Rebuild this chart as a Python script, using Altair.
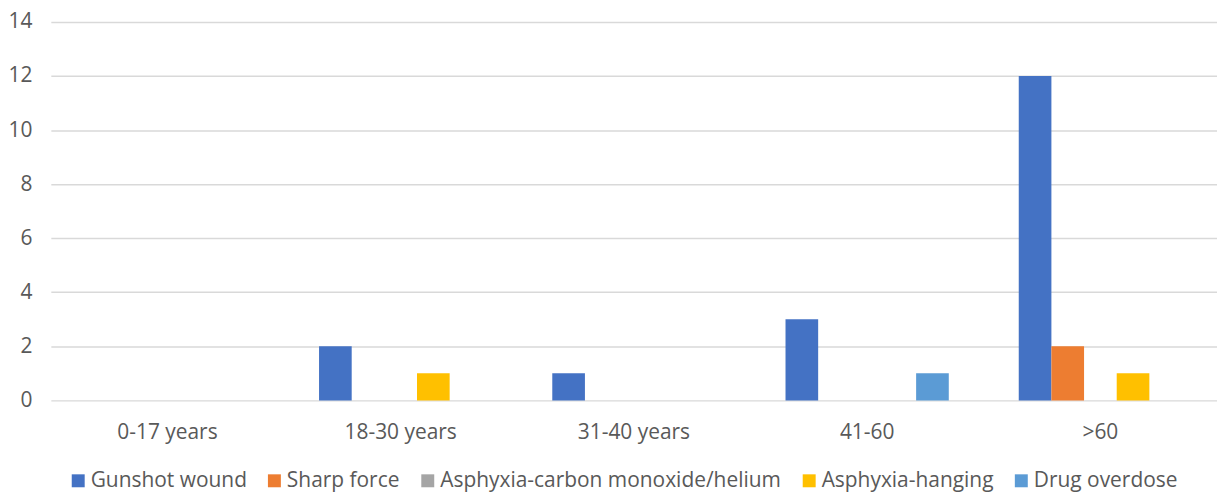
import altair as alt
import pandas as pd

categories = ["0-17 years", "18-30 years", "31-40 years", "41-60", ">60"]
series = ["Gunshot wound", "Sharp force", "Asphyxia-carbon monoxide/helium",
          "Asphyxia-hanging", "Drug overdose"]
colors = ["#4472C4", "#ED7D31", "#A5A5A5", "#FFC000", "#5B9BD5"]

gunshot = [0, 2, 1, 3, 12]
sharp = [0, 0, 0, 0, 2]
carbon = [0, 0, 0, 0, 0]
hanging = [0, 1, 0, 0, 1]
drug = [0, 0, 0, 1, 0]

values = [gunshot, sharp, carbon, hanging, drug]
rows = []
for s, vals in zip(series, values):
    for c, v in zip(categories, vals):
        rows.append({"category": c, "series": s, "value": v})
df = pd.DataFrame(rows)

FONT = "Open Sans"
FS = 21

chart = alt.Chart(df).mark_bar().encode(
    x=alt.X("category:N", sort=categories,
            scale=alt.Scale(paddingInner=0.3, paddingOuter=0.15),
            axis=alt.Axis(title=None, labelAngle=0, domain=False, ticks=False,
                          labelPadding=21, labelFontSize=FS, labelColor="#595959",
                          labelFont=FONT)),
    xOffset=alt.XOffset("series:N", sort=series,
                        scale=alt.Scale(domain=series, paddingInner=0, paddingOuter=0)),
    y=alt.Y("value:Q", scale=alt.Scale(domain=[0, 14]),
            axis=alt.Axis(title=None, values=list(range(0, 15, 2)), domain=False,
                          ticks=False, labelPadding=19, labelFontSize=FS,
                          labelColor="#595959", labelFont=FONT,
                          gridColor="#D9D9D9", gridWidth=1.5)),
    color=alt.Color("series:N", sort=series,
                    scale=alt.Scale(domain=series, range=colors),
                    legend=alt.Legend(title=None, orient="none", direction="horizontal",
                                      legendX=17, legendY=450,
                                      symbolType="square", symbolSize=169,
                                      symbolStrokeWidth=0,
                                      labelFontSize=FS, labelColor="#595959",
                                      labelFont=FONT, labelOffset=2,
                                      columnPadding=17, labelLimit=400)),
).properties(
    width=1171, height=380,
    autosize=alt.AutoSizeParams(type="none"),
    padding={"left": 43, "top": 13, "right": 0, "bottom": 91},
).configure_view(stroke=None)

chart.save("out.html", embed_options={"renderer": "svg", "actions": False})
